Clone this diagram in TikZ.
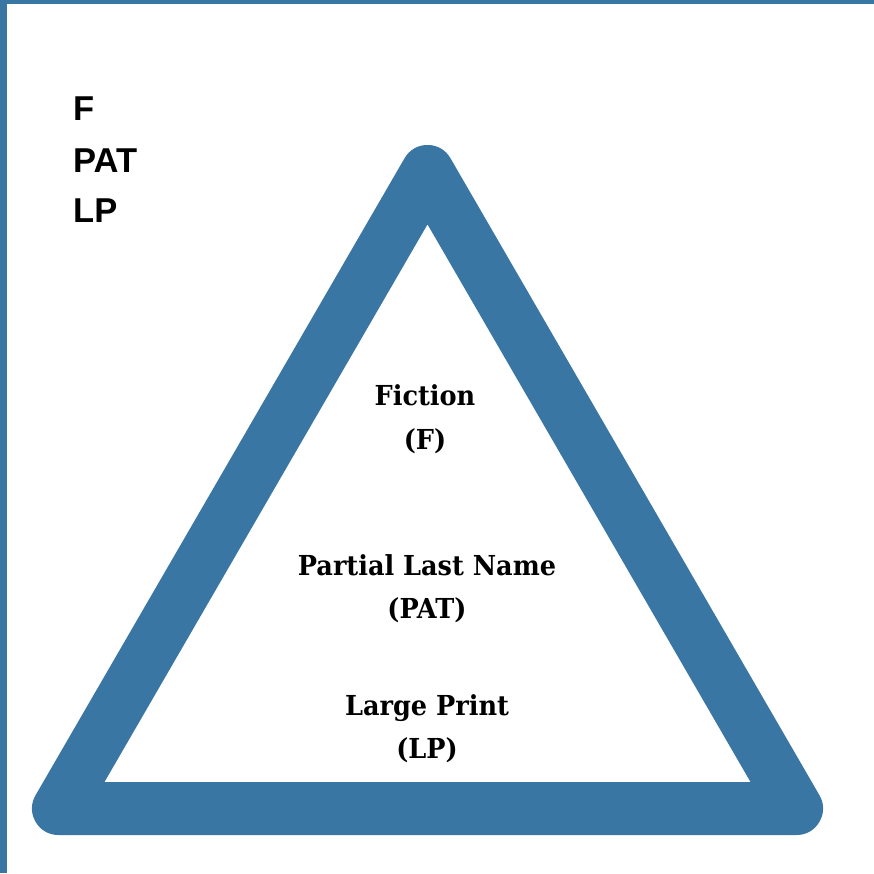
\documentclass[tikz,border=0pt]{standalone}
\usepackage{fontspec}
\setmainfont{Liberation Sans}
\newfontfamily\slabfont{DejaVu Serif}
\definecolor{tblue}{HTML}{3A76A4}
\newcommand{\narrow}[1]{\scalebox{0.93}[1]{#1}}
\tikzset{
  tri/.style={draw=tblue, line width=53pt, line join=round},
  lbl/.style={font=\slabfont\bfseries\fontsize{27.5}{43.5}\selectfont, align=center, inner sep=0pt, text=black, anchor=base},
  code/.style={font=\bfseries\fontsize{34.5}{40}\selectfont, anchor=base west, inner sep=0pt}
}
\begin{document}
\begin{tikzpicture}[x=1pt,y=1pt]
\useasboundingbox (0,0) rectangle (874,873);
\fill[white] (0,0) rectangle (874,873);
\fill[tblue] (0,0) rectangle (7,873);
\fill[tblue] (0,869) rectangle (874,873);
\coordinate (A) at (58.5,64.5);
\coordinate (B) at (796.5,64.5);
\coordinate (C) at (427.5,701.5);
\draw[tri] (A) -- (B) -- (C) -- cycle;
\node[code] (k1) at (73,752.5) {F};
\node[code] (k2) at (73,700) {PAT};
\node[code] (k3) at (73,650) {LP};
\node[lbl] (f) at (425,423.5) {\narrow{Fiction}\\\narrow{(F)}};
\node[lbl] (p) at (427,254.5) {\narrow{Partial Last Name}\\\narrow{(PAT)}};
\node[lbl] (l) at (427,114.5) {\narrow{Large Print}\\\narrow{(LP)}};
\end{tikzpicture}
\end{document}
